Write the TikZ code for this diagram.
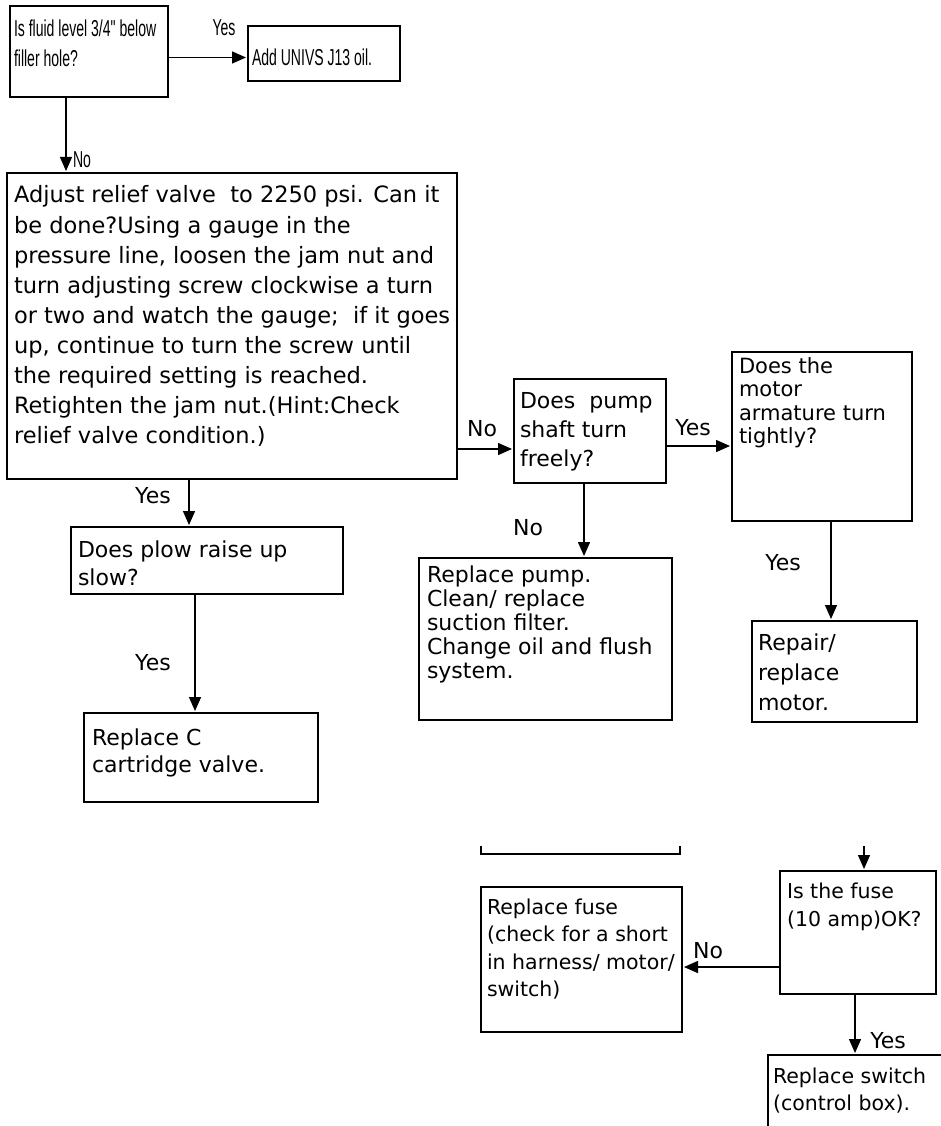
\documentclass[tikz,border=0pt]{standalone}
\usepackage{fontspec}
\setmainfont{DejaVu Sans}
\newfontfamily\narrowfont[FakeStretch=0.61,Ligatures=TeXOff]{Liberation Sans}
\usetikzlibrary{arrows.meta,calc,positioning}
\newcommand{\flowtext}[5]{\parbox[t][#2][t]{#1}{\raggedright\leftskip=#3\rule{0pt}{#4}\ignorespaces#5}}

\begin{document}
\begin{tikzpicture}[
    x=1pt, y=-1pt,
    box/.style={draw, line width=1.6pt, anchor=north west, inner sep=0pt, outer sep=0pt},
    arr/.style={-{Triangle[length=14pt,width=12pt]}, line width=1.4pt, shorten >=2pt},
    lbl/.style={inner sep=0pt, font=\fontsize{22}{27}\selectfont},
    nlbl/.style={inner sep=0pt, font=\narrowfont\fontsize{23}{30}\selectfont}]
\useasboundingbox (0,0) rectangle (941,1126);
\fill[white] (0,0) rectangle (941,1126);
\clip (0,0) rectangle (941,1126);

\node[box, font=\narrowfont\fontsize{23}{30}\selectfont] (fluid) at (10,6)
    {\flowtext{158pt}{91pt}{4pt}{31pt}{Is fluid level 3/4" below\\filler hole?}};
\node[box, font=\narrowfont\fontsize{23}{30}\selectfont] (addoil) at (248,26)
    {\flowtext{152pt}{55pt}{4pt}{40pt}{Add UNIVS J13 oil.}};
\node[box, font=\fontsize{22.5}{30}\selectfont] (adjust) at (7,173)
    {\flowtext{450pt}{306pt}{7pt}{30pt}{Adjust relief valve~ to 2250 psi. Can it\\
     be done?Using a gauge in the\\
     pressure line, loosen the jam nut and\\
     turn adjusting screw clockwise a turn\\
     or two and watch the gauge;~ if it goes\\
     up, continue to turn the screw until\\
     the required setting is reached.\\
     Retighten the jam nut.(Hint:Check\\
     relief valve condition.)}};
\node[box, font=\fontsize{22}{29}\selectfont] (pump) at (514,379)
    {\flowtext{152pt}{104pt}{6pt}{29pt}{Does~ pump\\shaft turn\\freely?}};
\node[box, font=\fontsize{21}{23.5}\selectfont] (motor) at (732,352)
    {\flowtext{180pt}{169pt}{7pt}{21pt}{Does the\\motor\\armature turn\\tightly?}};
\node[box, font=\fontsize{22}{24}\selectfont] (replpump) at (419,558)
    {\flowtext{253pt}{162pt}{8pt}{24pt}{Replace pump.\\Clean/ replace\\suction filter.\\Change oil and flush\\system.}};
\node[box, font=\fontsize{22}{30}\selectfont] (repmotor) at (752,621)
    {\flowtext{165pt}{101pt}{6pt}{29pt}{Repair/\\replace\\motor.}};
\node[box, font=\fontsize{22}{28}\selectfont] (plow) at (71,527)
    {\flowtext{272pt}{67pt}{7pt}{30pt}{Does plow raise up\\slow?}};
\node[box, font=\fontsize{22}{27}\selectfont] (cartridge) at (84,713)
    {\flowtext{234pt}{89pt}{8pt}{32pt}{Replace C\\cartridge valve.}};
\node[box, font=\fontsize{20.5}{28}\selectfont] (fuse) at (780,871)
    {\flowtext{156pt}{123pt}{7pt}{27pt}{Is the fuse\\(10 amp)OK?}};
\node[box, font=\fontsize{20.5}{27.5}\selectfont] (replfuse) at (481,887)
    {\flowtext{201pt}{145pt}{6pt}{27pt}{Replace fuse\\(check for a short\\in harness/ motor/\\switch)}};
\node[box, font=\fontsize{20.5}{27}\selectfont] (replswitch) at (768,1055)
    {\flowtext{200pt}{100pt}{5pt}{28pt}{Replace switch\\(control box).}};

\draw[line width=1.6pt] (481,846) |- (680,854) -- (680,846);
\coordinate (fusein) at (864,846);

\draw[arr] ([yshift=-6pt]fluid.east) -- ([yshift=-4pt]addoil.west);
\draw[arr] ([xshift=56pt]fluid.south west) -- ([xshift=59pt]adjust.north west);
\draw[arr] ([yshift=-123pt]adjust.east) -- ([yshift=-18pt]pump.west);
\draw[arr] ([yshift=-15pt]pump.east) -- ([yshift=-9.5pt]motor.west);
\draw[arr] ([xshift=-6pt]pump.south) -- ([xshift=165pt]replpump.north west);
\draw[arr] ([xshift=9pt]motor.south) -- ([xshift=79pt]repmotor.north west);
\draw[arr] ([xshift=182pt]adjust.south west) -- ([xshift=118pt]plow.north west);
\draw[arr] ([xshift=124pt]plow.south west) -- ([xshift=111pt]cartridge.north west);
\draw[arr] (fusein) -- ([xshift=6pt]fuse.north);
\draw[arr] ([yshift=-34.5pt]fuse.west) -- ([yshift=-7.5pt]replfuse.east);
\draw[arr] ([xshift=-3pt]fuse.south) -- ([xshift=87pt]replswitch.north west);

\node[nlbl] (yes1) at (224,28) {Yes};
\node[nlbl] (no1) at (82,160) {No};
\node[lbl] (no2) at (482,429) {No};
\node[lbl] (yes2) at (693,428) {Yes};
\node[lbl] (no3) at (528,528) {No};
\node[lbl] (yes3) at (783,563) {Yes};
\node[lbl] (yes4) at (153,496) {Yes};
\node[lbl] (yes5) at (153,663) {Yes};
\node[lbl] (no4) at (708,951) {No};
\node[lbl] (yes6) at (888,1041) {Yes};

\end{tikzpicture}
\end{document}
